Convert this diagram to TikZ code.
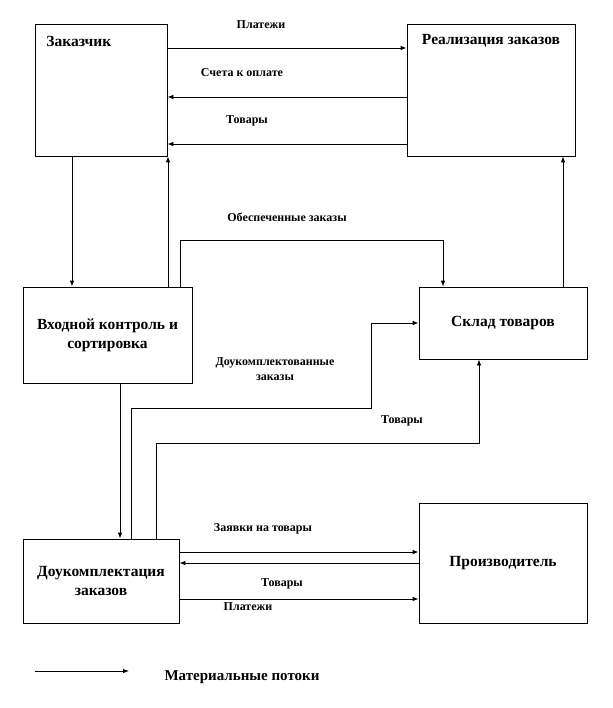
\documentclass[tikz,border=0pt]{standalone}
\usepackage{fontspec}
\setmainfont{Liberation Serif}
\usetikzlibrary{arrows.meta}

\begin{document}
\begin{tikzpicture}[
        x=1pt, y=-1pt,
        >={Latex[length=6pt,width=4.5pt]},
        every path/.style={line width=0.8pt},
        block/.style={rectangle, draw, line width=0.8pt, inner sep=0pt, align=center, font=\bfseries\fontsize{15.5}{19}\selectfont},
        title/.style={inner sep=0pt, font=\bfseries\fontsize{15.5}{19}\selectfont},
        flow/.style={font=\bfseries\fontsize{12}{15}\selectfont, inner sep=0pt, align=center}
    ]
        \useasboundingbox (0,0) rectangle (612,708);

        \node[block, minimum width=132pt, minimum height=132pt] (zak) at (101,90) {};
        \node[title, anchor=west] (zaktxt) at (46,41) {Заказчик};
        \node[block, minimum width=168pt, minimum height=132pt] (real) at (491,90) {};
        \node[title] (realtxt) at (491,41) {Реализация заказов};
        \node[block, minimum width=169pt, minimum height=96pt] (vk) at (107.5,335) {Входной контроль  и\\ сортировка};
        \node[block, minimum width=168pt, minimum height=72pt] (sklad) at (503,323) {Склад товаров};
        \node[block, minimum width=156pt, minimum height=84pt] (dok) at (101,581) {Доукомплектация\\ заказов};
        \node[block, minimum width=168pt, minimum height=120pt] (proizv) at (503,563) {Производитель};

        % Заказчик -- Реализация заказов
        \draw[->] (zak.east |- 0,48) -- (real.west |- 0,48);
        \draw[->] (real.west |- 0,97) -- (zak.east |- 0,97);
        \draw[->] (real.west |- 0,144) -- (zak.east |- 0,144);
        \node[flow] (pl1) at (261,25) {Платежи};
        \node[flow] (sch) at (242,73) {Счета к оплате};
        \node[flow] (tov1) at (247,121) {Товары};

        \draw[->] (zak.south -| 72,0) -- (vk.north -| 72,0);
        \draw[->] (vk.north -| 168,0) -- (zak.south -| 168,0);
        \draw[->] (vk.north -| 180,0) -- (180,240) -| (sklad.north -| 443,0);
        \node[flow] (obesp) at (287,217) {Обеспеченные заказы};
        \draw[->] (sklad.north -| 563,0) -- (real.south -| 563,0);

        % Доукомплектация -- склад
        \draw[->] (vk.south -| 120,0) -- (dok.north -| 120,0);
        \draw[->] (dok.north -| 131,0) -- (131,408) -| (371,323) -- (sklad.west |- 0,323);
        \node[flow] (dokz) at (275,369.5) {Доукомплектованные\\ заказы};
        \draw[->] (dok.north -| 156,0) -- (156,443) -| (sklad.south -| 479,0);
        \node[flow] (tov2) at (402,421) {Товары};

        % Доукомплектация -- Производитель
        \draw[->] (dok.east |- 0,552) -- (proizv.west |- 0,552);
        \draw[->] (proizv.west |- 0,563) -- (dok.east |- 0,563);
        \draw[->] (dok.east |- 0,599) -- (proizv.west |- 0,599);
        \node[flow] (zayav) at (263,529) {Заявки на товары};
        \node[flow] (tov3) at (282,584) {Товары};
        \node[flow] (pl2) at (248,607) {Платежи};

        % легенда
        \coordinate (lg1) at (35,671);
        \coordinate (lg2) at (129,671);
        \draw[->] (lg1) -- (lg2);
        \node[flow, font=\bfseries\fontsize{15}{18}\selectfont] (legtxt) at (242,677) {Материальные потоки};
    \end{tikzpicture}
\end{document}
